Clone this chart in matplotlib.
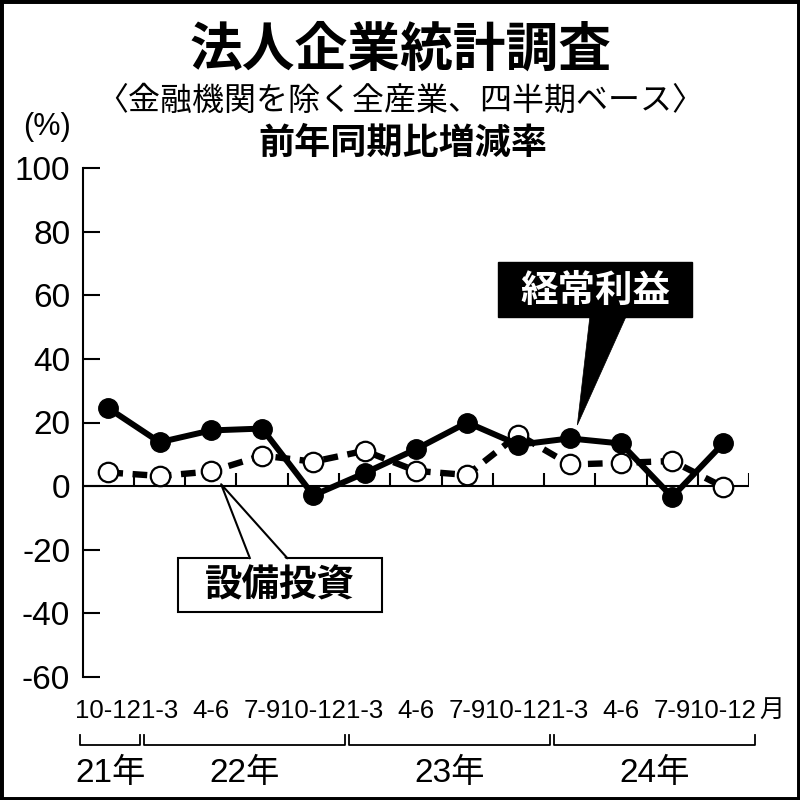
import matplotlib
matplotlib.use('Agg')
import matplotlib.pyplot as plt
from matplotlib import font_manager
from matplotlib.patches import Rectangle, Polygon

names = {f.name for f in font_manager.fontManager.ttflist}
narrow = 'Liberation Sans Narrow' if 'Liberation Sans Narrow' in names else 'Liberation Sans'
jp = 'Noto Sans CJK JP'
plt.rcParams['font.family'] = ['Liberation Sans', jp]

# data
quarters = ['10-12', '1-3', '4-6', '7-9', '10-12', '1-3', '4-6', '7-9',
            '10-12', '1-3', '4-6', '7-9', '10-12']
years = ['21年', '22年', '23年', '24年']
year_first = [0, 1, 5, 9]
year_last = [0, 4, 8, 12]
keijo = [24.5, 13.8, 17.5, 18.1, -2.9, 4.1, 11.6, 20.0, 13.0, 15.0, 13.4, -3.4, 13.5]
setsubi = [4.3, 3.2, 4.6, 9.6, 7.7, 11.1, 4.8, 3.5, 16.2, 6.8, 7.3, 7.9, -0.3]
yticks = [-60, -40, -20, 0, 20, 40, 60, 80, 100]

fig = plt.figure(figsize=(8, 8), dpi=100)
ax = fig.add_axes([0.1034, 0.15375, 0.8329, 0.63625])
x = list(range(len(quarters)))

ax.plot(x, setsubi, color='black', lw=4.6, dashes=(2.3, 1.5), marker='o', ms=14,
        mfc='white', mec='black', mew=1.6, zorder=3)
ax.plot(x, keijo, color='black', lw=4.3, marker='o', ms=14, zorder=4)

ax.set_xlim(-0.5, 12.5)
ax.set_ylim(-60, 100)
for s in ['top', 'right', 'bottom']:
    ax.spines[s].set_visible(False)
ax.spines['left'].set_linewidth(1.5)
ax.axhline(0, color='black', lw=1.5, zorder=2)
ax.vlines([i + 0.5 for i in x], 0, 4, color='black', lw=1.5, zorder=2)

ax.set_yticks(yticks, [str(v) for v in yticks], fontfamily='Liberation Sans', fontsize=24)
ax.tick_params(axis='y', direction='in', length=12, width=1.5, pad=9)
ax.set_xticks(x, quarters, fontfamily=narrow, fontsize=18.5)
ax.tick_params(axis='x', length=0, pad=16)
ax.text(12.7, -0.04, '月', transform=ax.get_xaxis_transform(), ha='left', va='top',
        fontsize=18, fontfamily=jp)

# year brackets
tr = ax.get_xaxis_transform()
for name, a, b in zip(years, year_first, year_last):
    lo = a - 0.55 if a == 0 else a - 0.3
    hi = b + 0.62
    ax.plot([lo, lo, hi, hi], [-0.114, -0.1336, -0.1336, -0.114], color='black', lw=1.3,
            transform=tr, clip_on=False)
    ax.text((lo + hi) / 2, -0.19, name, transform=tr, ha='center', va='center', fontsize=24)

# callout: 経常利益
ax.add_patch(Rectangle((7.61, 53.1), 3.78, 17.3, fc='black', ec='black', zorder=6))
ax.add_patch(Polygon([(9.40, 54), (10.12, 54), (9.15, 19.2)], closed=True, fc='black',
                     ec='black', lw=0.5, zorder=6))
ax.text(9.50, 61.6, '経常利益', color='white', fontsize=27, fontweight='bold', fontfamily=jp,
        ha='center', va='center', zorder=7)

# callout: 設備投資
ax.add_patch(Rectangle((1.36, -39.6), 3.98, 17.0, fc='white', ec='black', lw=1.5, zorder=6))
ax.add_patch(Polygon([(2.76, -23.4), (3.49, -23.4), (2.20, 0.6)], closed=True, fc='white',
                     ec='none', zorder=7))
ax.plot([2.76, 2.20, 3.49], [-22.6, 0.6, -22.6], color='black', lw=1.5, zorder=8)
ax.text(3.35, -31.1, '設備投資', color='black', fontsize=27, fontweight='bold', fontfamily=jp,
        ha='center', va='center', zorder=8)

# titles
fig.text(0.501, 1 - 50 / 800, '法人企業統計調査', fontsize=38, fontweight='bold',
         fontfamily=jp, ha='center', va='center')
fig.text(0.50, 1 - 101 / 800, '〈金融機関を除く全産業、四半期ベース〉', fontsize=23,
         fontfamily=jp, ha='center', va='center')
fig.text(0.504, 1 - 143 / 800, '前年同期比増減率', fontsize=26, fontweight='bold',
         fontfamily=jp, ha='center', va='center')
fig.text(47 / 800, 1 - 127 / 800, '(%)', fontsize=22, fontfamily=narrow, ha='center',
         va='center')

fig.add_artist(Rectangle((0, 0), 1, 1, transform=fig.transFigure, fill=False,
                         ec='black', lw=5))

fig.savefig('out.png', dpi=100)
